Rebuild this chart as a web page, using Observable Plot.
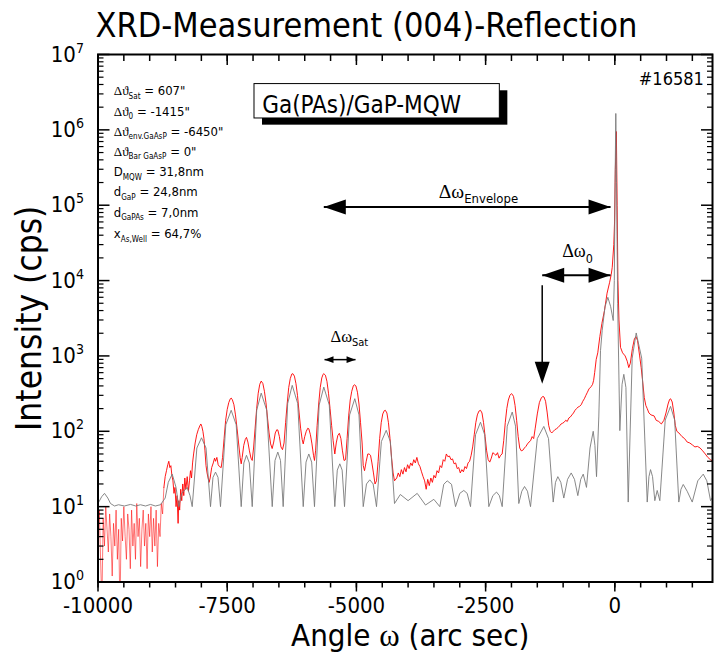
<!DOCTYPE html>
<html><head><meta charset="utf-8">
<script src="https://cdn.jsdelivr.net/npm/d3@7"></script>
<script src="https://cdn.jsdelivr.net/npm/@observablehq/plot@0.6"></script>
<style>
html,body{margin:0;padding:0;background:#fff;}
#chart{width:715px;height:659px;overflow:hidden;}
</style></head><body><div id="chart"></div>
<script>
// ---- simulated curve (grey) : angle (arc sec), intensity (cps)
const simAngle = [-10000,-9930,-9874,-9810,-9758,-9680,-9603,-9490,-9371,-9270,-9178,-9080,-8984,-8890,-8791,-8700,-8640,-8564,-8490,-8437,-8380,-8274,-8220,-8177,-8087,-7997,-7910,-7823,-7775,-7726,-7678,-7630,-7527,-7423,-7326,-7229,-7178,-7127,-7072,-7016,-6929,-6842,-6736,-6629,-6575,-6521,-6469,-6417,-6330,-6242,-6136,-6029,-5975,-5921,-5866,-5811,-5721,-5631,-5525,-5418,-5370,-5321,-5276,-5230,-5131,-5031,-4950,-4868,-4805,-4741,-4676,-4611,-4517,-4423,-4343,-4263,-4150,-4000,-3824,-3663,-3502,-3386,-3310,-3243,-3160,-3082,-3000,-2922,-2857,-2792,-2695,-2599,-2518,-2438,-2360,-2289,-2234,-2179,-2082,-1985,-1921,-1858,-1800,-1747,-1690,-1631,-1500,-1374,-1283,-1192,-1148,-1103,-1045,-987,-915,-844,-780,-716,-660,-611,-548,-480,-418,-385,-354,-310,-277,-244,-190,-135,-80,-31,-10,5,19,33,55,97,140,174,215,259,336,414,520,627,660,691,730,774,820,871,975,1078,1158,1238,1280,1324,1400,1498,1605,1711,1780,1852,1910];
const simIntensity = [11,13.5,15,13,11,10.2,10.6,10.2,10.7,10.2,10.6,10.2,10.7,10.2,10.6,13,21,27,18,10,15,18,14,10,60,82,60,10,24.5,28.7,24.5,10,122,190,122,10,38,48,38,10,191,321,191,10,41,53,41,10,234,407,234,10,39,50,39,10,223,386,223,10,30.5,37,30.5,10,165,271,165,10,20,22.7,20,10,73,103,73,11,14.5,12,15,10.5,12.5,10,19.8,22,19.8,10,15,16.4,15,10,90,132,90,10,14,15.6,14,10,117,180,117,11,16,18.5,16,10,80,116,80,11.5,21,25,21,13,23,28,23,14,23,27,18,60,100,65,25,155,1175,2190,4500,6000,4500,2950,10000,200000,1650000,200000,5000,102,420,570,380,11.5,935,2017,935,11.5,25,31,25,12,16.4,12,141,214,141,11.5,17,19.7,16,11.5,22,27,22,12,14];

// ---- measured curve (red)
const measAngle = [-10000,-9975,-9950,-9925,-9900,-9875,-9850,-9825,-9800,-9775,-9750,-9725,-9700,-9675,-9650,-9625,-9600,-9575,-9550,-9525,-9500,-9475,-9450,-9425,-9400,-9375,-9350,-9325,-9300,-9275,-9250,-9225,-9200,-9175,-9150,-9125,-9100,-9075,-9050,-9025,-9000,-8975,-8950,-8925,-8900,-8875,-8850,-8825,-8800,-8775,-8750,
-8725,-8700,-8675,-8650,-8630,-8610,-8590,-8570,-8550,-8530,-8510,-8490,-8470,-8450,-8437,-8420,-8400,-8380,-8360,-8340,-8320,-8300,-8274,-8250,-8230,-8210,-8190,-8170,-8150,-8120,-8090,-8060,-8030,-8010,-7990,-7970,-7950,-7930,-7910,-7890,-7870,-7850,-7830,-7800,-7770,-7745,-7726,-7700,-7675,-7650,-7616,-7590,-7560,-7530,-7500,-7470,-7440,-7423,-7400,-7370,-7340,-7310,-7280,-7250,-7229,-7210,-7180,-7150,-7127,-7100,-7070,-7040,-7016,-6990,-6960,-6930,-6900,-6870,-6842,-6810,-6780,-6750,-6720,-6690,-6660,-6630,-6600,-6570,-6540,-6521,-6490,-6460,-6430,-6400,-6370,-6340,-6310,-6280,-6250,-6230,-6200,-6170,-6140,-6110,-6080,-6050,-6029,-6000,-5970,-5940,-5921,-5890,-5860,-5830,-5811,-5790,-5760,-5730,-5700,-5670,-5645,-5631,-5600,-5570,-5540,-5510,-5480,-5450,-5418,-5390,-5360,-5330,-5300,-5270,-5240,-5210,-5180,-5150,-5120,-5090,-5060,-5040,-5010,-4980,-4950,-4920,-4890,-4868,-4843,-4810,-4780,-4755,-4727,-4700,-4670,-4640,-4611,-4580,-4550,-4520,-4490,-4460,-4440,-4410,-4380,-4350,-4320,-4290,-4263,
-4220,-4190,-4160,-4130,-4100,-4070,-4040,-4010,-3980,-3950,-3920,-3890,-3860,-3830,-3800,-3770,-3740,-3710,-3680,-3650,-3620,-3590,-3560,-3530,-3500,-3470,-3440,-3410,-3380,-3350,-3320,-3290,-3260,-3230,-3200,-3170,-3140,-3110,-3080,-3050,-3020,-2990,-2960,-2930,-2900,-2870,-2840,-2810,-2780,-2750,-2720,-2690,-2660,-2630,-2599,-2570,-2540,-2510,-2480,-2450,-2420,-2390,-2360,-2330,-2300,-2270,-2240,-2210,-2180,-2150,-2120,-2090,-2060,-2030,-2000,-1985,-1960,-1930,-1900,-1870,-1840,-1810,-1780,-1750,-1720,-1690,-1660,-1630,-1600,-1570,-1540,-1500,-1460,-1420,-1390,-1370,-1340,-1310,-1280,-1250,-1220,-1190,-1160,-1130,-1100,-1070,-1040,-1010,-980,-950,-920,-890,-860,-830,-800,-770,-740,-710,-680,-650,-620,-590,-560,-530,-500,-460,-430,-410,-390,-360,-330,-290,-250,-200,-150,-100,-70,-50,-20,-5,10,30,45,60,80,110,150,200,240,270,300,340,380,410,440,480,510,540,570,600,627,660,700,760,800,850,900,950,990,1030,1060,1080,1110,1140,1170,1200,1240,1300,1350,1400,1450,1500,1550,1600,1650,1700,1750,1800,1850,1900];
const measIntensity = [4,9,2,0.5,7,3,10,5,2.5,8,4,1.2,6,3,9,2,5,0.4,7,3.5,10,4,2,8,5,1.5,9,3,6,2,11,4,7,1.6,5,9,3,6,1.5,8,4,10,2.5,7,3,9,1.6,6,4,11,8,
18,25,30,36,40,33,35,26,22,15,18,10,14,6,12,9,17,12,20,14,24,17,25,16,22,30,24,38,50,70,90,105,118,125,115,100,80,55,35,28,24,21,24,33,38,44,40,45,36,34,33,45,80,140,195,240,270,276,262,225,165,110,70,45,37,45,65,78,83,72,55,44,41,60,110,200,320,420,464,430,340,240,150,95,68,59,72,95,105,104,85,62,57,70,130,230,380,500,575,582,540,430,300,180,110,78,68,85,100,110,108,90,68,48,41,55,120,230,380,510,570,582,555,460,320,200,120,75,50,70,88,94,80,55,41,42,80,160,260,340,400,415,400,330,230,130,70,35,30,40,50,50,48,38,28,20,22,40,80,130,170,188,190,175,130,80,45,28,22,
24,28,25,31,27,33,29,36,32,38,35,42,38,45,37,34,29,25,22,17,23,19,24,21,26,24,30,28,35,33,42,40,50,46,47,42,43,37,38,32,33,28,31,29,34,32,38,40,48,62,90,130,165,185,190,175,130,85,55,42,39,44,52,50,48,52,44,48,50,75,130,200,260,300,316,310,290,220,140,85,60,55,56,60,63,68,72,75,85,80,110,170,240,280,290,285,250,180,120,100,95,100,105,108,112,118,125,128,132,140,135,150,155,165,175,190,200,210,215,225,250,270,300,330,365,390,420,475,600,900,1100,1800,2700,4000,6800,9500,12000,15000,30000,60000,300000,950000,100000,10000,3000,1300,1100,1000,850,700,800,1250,1700,1800,1600,1000,700,450,280,220,200,175,165,160,140,135,125,140,175,230,265,270,245,180,120,100,95,85,80,72,70,66,62,63,60,55,50,45,42,40];

// ---- axis tick values
const xMajor = [-10000, -7500, -5000, -2500, 0];
const xMinor = d3.range(-10000, 1501, 500);
const yMajor = [1, 10, 100, 1e3, 1e4, 1e5, 1e6, 1e7];
const yMinor = d3.range(0, 7).flatMap(k => d3.range(2, 10).map(m => m * 10 ** k));

// ---- annotation texts
const paramLines = ["Δϑ_{Sat} = 607\"", "Δϑ_{0} = -1415\"", "Δϑ_{env.GaAsP} = -6450\"", "Δϑ_{Bar GaAsP} = 0\"", "D_{MQW} = 31,8nm", "d_{GaP} = 24,8nm", "d_{GaPAs} = 7,0nm", "x_{As,Well} = 64,7%"];
const paramLevels = [2.89e6, 1.535e6, 8.32e5, 4.52e5, 2.43e5, 1.318e5, 6.99e4, 3.65e4];
const paramAngle = -9694;

const sim = simAngle.map((a, i) => ({a, v: simIntensity[i]}));
const meas = measAngle.map((a, i) => ({a, v: measIntensity[i]}));
const measNoise = meas.filter(d => d.a <= -8725);
const measMain = meas.filter(d => d.a >= -8725);

const SANS = "'DejaVu Sans Condensed', 'DejaVu Sans', sans-serif";
const SERIF = "'Liberation Serif', 'DejaVu Serif', serif";

const triShape = {draw(ctx, l, r) { ctx.moveTo(0, -l); ctx.lineTo(r, 0); ctx.lineTo(-r, 0); ctx.closePath(); }};

const shafts = [
  {x1: -5631, x2: -83, y1: 9.49e4, y2: 9.49e4, w: 2},
  {x1: -1405, x2: -83, y1: 1.175e4, y2: 1.175e4, w: 2},
  {x1: -1405, x2: -1405, y1: 8650, y2: 600, w: 1.5},
  {x1: -5617, x2: -5017, y1: 893, y2: 893, w: 1.5}
];
const bigHeads = [
  {x: -5631, y: 9.49e4, rot: -90}, {x: -83, y: 9.49e4, rot: 90},
  {x: -1405, y: 1.175e4, rot: -90}, {x: -83, y: 1.175e4, rot: 90},
  {x: -1405, y: 429, rot: 180}
];
const smallHeads = [{x: -5617, y: 893, rot: -90}, {x: -5017, y: 893, rot: 90}];

const chart = Plot.plot({
  width: 715, height: 659,
  marginLeft: 97.5, marginRight: 3, marginTop: 54, marginBottom: 77.5,
  x: {domain: [-10000, 1890]},
  y: {type: "log", domain: [1, 1e7]},
  style: {fontFamily: SANS, fontSize: "22px", background: "white", color: "black", overflow: "visible"},
  marks: [
    Plot.line(measNoise, {x: "a", y: "v", stroke: "#ff0000", strokeWidth: 0.9, strokeOpacity: 0.6, clip: true}),
    Plot.line(measMain, {x: "a", y: "v", stroke: "#ff0000", strokeWidth: 1, strokeOpacity: 0.9, clip: true}),
    Plot.line(sim, {x: "a", y: "v", stroke: "#7a7a7a", strokeWidth: 0.9, clip: true}),
    // frame + ticks
    Plot.frame({strokeWidth: 2}),
    Plot.axisX({anchor: "bottom", ticks: xMajor, tickSize: 10, tickPadding: 5, strokeWidth: 1.5, tickFormat: d => String(d), label: null, fontSize: 22}),
    Plot.axisX({anchor: "bottom", ticks: xMinor, tickSize: 6, strokeWidth: 1.5, fill: "none", label: null}),
    Plot.axisX({anchor: "top", ticks: xMajor, tickSize: -10, strokeWidth: 1.5, fill: "none", label: null}),
    Plot.axisX({anchor: "top", ticks: xMinor, tickSize: -6, strokeWidth: 1.5, fill: "none", label: null}),
    Plot.axisY({anchor: "left", ticks: yMajor, tickSize: 0, tickPadding: 14, stroke: "none", tickFormat: d => `10^{${Math.round(Math.log10(d))}}`, label: null, fontSize: 22}),
    Plot.axisY({anchor: "left", ticks: yMajor, tickSize: -12, strokeWidth: 1.5, fill: "none", label: null}),
    Plot.axisY({anchor: "left", ticks: yMinor, tickSize: -6, strokeWidth: 1.2, fill: "none", label: null}),
    Plot.axisY({anchor: "right", ticks: yMajor, tickSize: -12, strokeWidth: 1.5, fill: "none", label: null}),
    Plot.axisY({anchor: "right", ticks: yMinor, tickSize: -6, strokeWidth: 1.2, fill: "none", label: null}),
    // titles
    Plot.text(["XRD-Measurement (004)-Reflection"], {text: d => d, frameAnchor: "top-left", dx: -2.5, dy: -18, lineAnchor: "bottom", textAnchor: "start", fontSize: 34}),
    Plot.text(["Intensity (cps)"], {text: d => d, frameAnchor: "left", dx: -68, rotate: -90, textAnchor: "middle", lineAnchor: "middle", fontSize: 35}),
    Plot.text(["Angle ω (arc sec)"], {text: d => d, frameAnchor: "bottom", dx: 5, dy: 64, textAnchor: "middle", lineAnchor: "bottom", fontSize: 31, className: "xtitle"}),
    // label box
    Plot.rect([{}], {x1: -6817, x2: -2070, y1: 1.154e6, y2: 3.3e6, fill: "black"}),
    Plot.rect([{}], {x1: -6972, x2: -2225, y1: 1.416e6, y2: 4.05e6, fill: "white", stroke: "black", strokeWidth: 1}),
    Plot.text(["Ga(PAs)/GaP-MQW"], {text: d => d, x: -6823, y: 1.68e6, lineAnchor: "bottom", textAnchor: "start", fontSize: 24}),
    Plot.text(["#16581"], {text: d => d, x: 464, y: 3.92e6, lineAnchor: "bottom", textAnchor: "start", fontSize: 18}),
    // parameter list
    Plot.text(paramLines, {text: d => d, x: paramAngle, y: (d, i) => paramLevels[i], lineAnchor: "bottom", textAnchor: "start", fontSize: 13, className: "anno"}),
    // arrows
    Plot.link(shafts, {x1: "x1", x2: "x2", y1: "y1", y2: "y2", strokeWidth: d => d.w, stroke: "black"}),
    Plot.vector(bigHeads, {x: "x", y: "y", rotate: "rot", length: 22, r: 7.5, anchor: "end", shape: triShape, fill: "black", stroke: "none"}),
    Plot.vector(smallHeads, {x: "x", y: "y", rotate: "rot", length: 9, r: 3.4, anchor: "end", shape: triShape, fill: "black", stroke: "none"}),
    Plot.text(["Δω_{Envelope}"], {text: d => d, x: -3406, y: 1.23e5, lineAnchor: "bottom", textAnchor: "start", fontSize: 13, className: "dw"}),
    Plot.text(["Δω_{0}"], {text: d => d, x: -1018, y: 2.06e4, lineAnchor: "bottom", textAnchor: "start", fontSize: 12.5, className: "dw0"}),
    Plot.text(["Δω_{Sat}"], {text: d => d, x: -5501, y: 1530, lineAnchor: "bottom", textAnchor: "start", fontSize: 11, className: "dws"})
  ]
});
document.getElementById("chart").appendChild(chart);

// rich text: subscripts, superscripts, serif Greek letters
const RICH = {
  anno: {greek: 1.0, sub: 0.62, subDy: 3.5},
  dw: {greek: 1.5, sub: 1, subDy: 5},
  dw0: {greek: 1.45, sub: 1, subDy: 6},
  dws: {greek: 1.5, sub: 1, subDy: 4},
  xtitle: {greek: 1.0}
};
(function applyRich(root) {
  const NS = "http://www.w3.org/2000/svg";
  const leaves = [...root.querySelectorAll("text, tspan")].filter(n => n.childElementCount === 0 && /[_^]\{|[Δϑω]/.test(n.textContent));
  for (const n of leaves) {
    const cfg = {greek: 1, sub: 0.62, subDy: 3.5, sup: 0.64, supDy: -9};
    for (const k in RICH) if (n.closest("." + k)) Object.assign(cfg, RICH[k]);
    const fs = parseFloat(getComputedStyle(n).fontSize) || 13;
    const s = n.textContent; n.textContent = "";
    const re = /([_^])\{([^}]*)\}|([Δϑω]+)|([^_^Δϑω]+)/g;
    let m, shift = 0;
    while ((m = re.exec(s))) {
      const t = document.createElementNS(NS, "tspan");
      let target = 0;
      if (m[1] === "_") { target = cfg.subDy; t.setAttribute("font-size", fs * cfg.sub); t.setAttribute("font-family", SANS); t.textContent = m[2]; }
      else if (m[1] === "^") { target = cfg.supDy; t.setAttribute("font-size", fs * cfg.sup); t.textContent = m[2]; }
      else if (m[3]) { t.setAttribute("font-family", SERIF); t.setAttribute("font-size", fs * cfg.greek); t.textContent = m[3]; }
      else t.textContent = m[4];
      if (target !== shift) { t.setAttribute("dy", target - shift); shift = target; }
      n.appendChild(t);
    }
  }
})(chart);
</script>
</body></html>
